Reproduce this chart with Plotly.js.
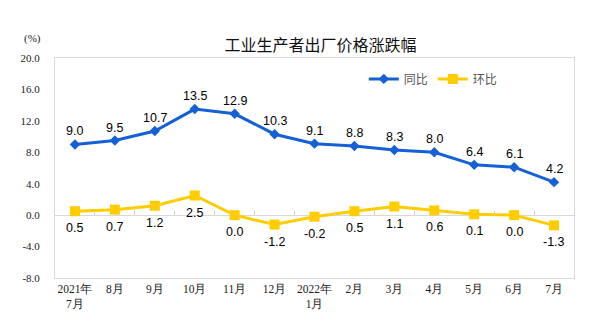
<!DOCTYPE html>
<html><head><meta charset="utf-8">
<script src="https://cdn.plot.ly/plotly-3.0.1.min.js"></script>
<style>body{margin:0;background:#fff}#c{width:600px;height:335px}</style>
</head><body><div id="c"></div>
<script>
const categories = ["2021年<br>7月","8月","9月","10月","11月","12月","2022年<br>1月","2月","3月","4月","5月","6月","7月"];
const yoy = [9.0, 9.5, 10.7, 13.5, 12.9, 10.3, 9.1, 8.8, 8.3, 8.0, 6.4, 6.1, 4.2];
const mom = [0.5, 0.7, 1.2, 2.5, 0.0, -1.2, -0.2, 0.5, 1.1, 0.6, 0.1, 0.0, -1.3];
const seriesNames = ["同比", "环比"];
const yTicks = [-8, -4, 0, 4, 8, 12, 16, 20];

const blue = "#1560d4", yellow = "#ffcc00";
const cjk = "'Noto Sans CJK SC', sans-serif";
const serif = "'Liberation Serif', 'Times New Roman', serif";
const sans = "'Liberation Sans', Arial, sans-serif";

const traces = [
  {x: categories, y: yoy, name: seriesNames[0], type: "scatter", mode: "lines+markers",
   line: {color: blue, width: 3}, marker: {symbol: "diamond", size: 8, color: blue}},
  {x: categories, y: mom, name: seriesNames[1], type: "scatter", mode: "lines+markers",
   line: {color: yellow, width: 3}, marker: {symbol: "square", size: 10, color: yellow}},
  {x: [0], y: [0], xaxis: "x2", yaxis: "y", type: "scatter", mode: "markers",
   marker: {opacity: 0}, showlegend: false, hoverinfo: "skip"}
];

const W = 600, H = 335, ml = 55, mr = 26, mt = 58, mb = 57;
const ann = [];
categories.forEach((c, i) => {
  ann.push({x: c, y: yoy[i], xref: "x", yref: "y", text: yoy[i].toFixed(1), showarrow: false,
    yshift: 13, font: {family: sans, size: 12.5, color: "#000"}});
  ann.push({x: c, y: mom[i], xref: "x", yref: "y", text: mom[i].toFixed(1), showarrow: false,
    yshift: -17, font: {family: sans, size: 12.5, color: "#000"}});
});
ann.push({x: (32 - ml) / (W - ml - mr), y: 1 + (mt - 38) / (H - mt - mb),
  xref: "paper", yref: "paper", text: "(%)", showarrow: false, xanchor: "center", yanchor: "middle",
  font: {family: serif, size: 11, color: "#222"}});

const layout = {
  width: W, height: H,
  margin: {l: ml, r: mr, t: mt, b: mb},
  paper_bgcolor: "#fff", plot_bgcolor: "#fff",
  title: {text: "工业生产者出厂价格涨跌幅", x: 307 / W, xanchor: "center", xref: "paper",
    y: 1 - 45 / H, yref: "container", yanchor: "middle",
    font: {family: cjk, size: 16, color: "#111"}},
  showlegend: true,
  legend: {orientation: "h", x: 0.595, y: 0.905, xanchor: "left", yanchor: "middle",
    font: {family: cjk, size: 12, color: "#555"}, bgcolor: "rgba(0,0,0,0)", itemwidth: 30},
  xaxis: {type: "category", range: [-0.5, 12.5], showgrid: false, zeroline: false,
    showline: true, mirror: true, linecolor: "#d9d9d9", linewidth: 1, ticks: "",
    tickfont: {family: serif, size: 11.5, color: "#222"}, fixedrange: true},
  xaxis2: {overlaying: "x", anchor: "free", position: 8 / 28, side: "top", type: "linear",
    range: [-0.5, 12.5], tickmode: "array", tickvals: categories.slice(1).map((_, i) => i + 0.5),
    ticks: "outside", ticklen: 4, tickcolor: "#d0d0d0", showticklabels: false, showline: false,
    showgrid: false, zeroline: false, fixedrange: true},
  yaxis: {range: [-8, 20], tickmode: "array", tickvals: yTicks, ticktext: yTicks.map(v => v.toFixed(1)),
    showgrid: false, zeroline: true, zerolinecolor: "#d9d9d9", zerolinewidth: 1,
    showline: true, mirror: true, linecolor: "#d9d9d9", linewidth: 1,
    ticks: "", ticklabelstandoff: 12,
    tickfont: {family: serif, size: 11, color: "#222"}, fixedrange: true},
  annotations: ann
};
Plotly.newPlot("c", traces, layout, {displayModeBar: false, staticPlot: true});
</script></body></html>
